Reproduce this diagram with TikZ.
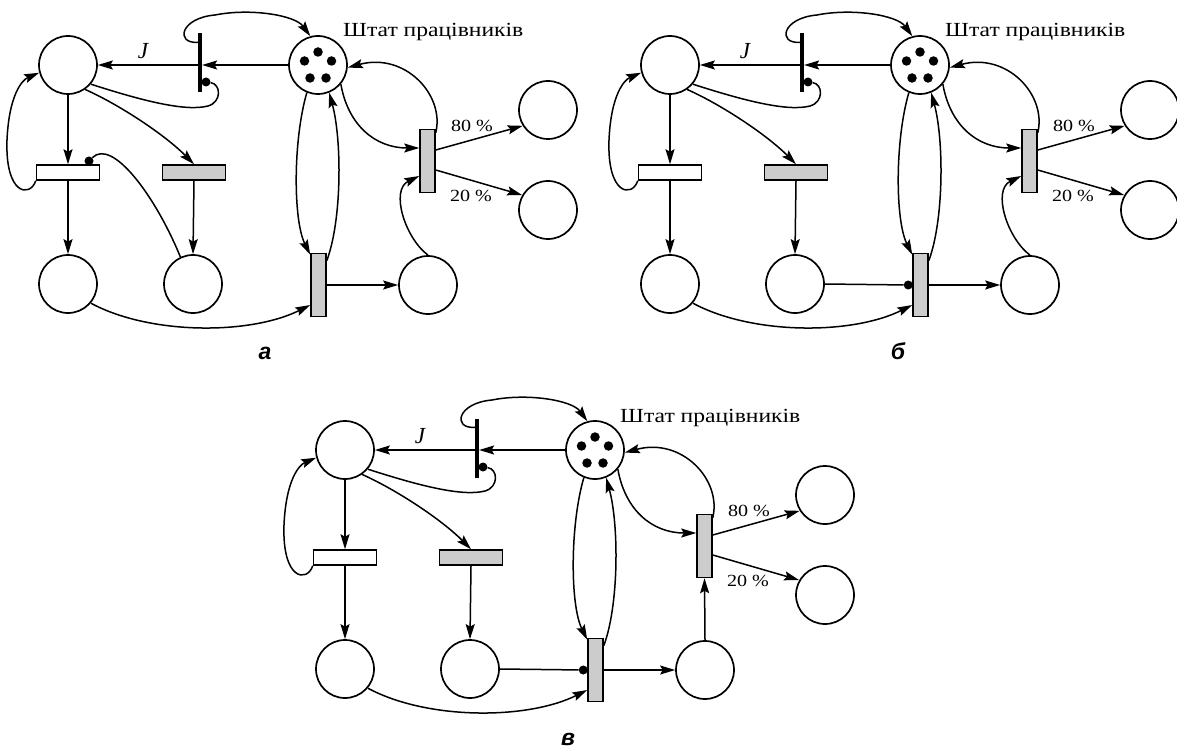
\documentclass[tikz,border=0pt]{standalone}
\usepackage{fontspec}
\setmainfont{Liberation Serif}
\newfontfamily\stafffont{Liberation Serif}[FakeStretch=1.18]
\newfontfamily\panelfont{Liberation Sans}
\usetikzlibrary{arrows.meta,calc}
\tikzset{
  place/.style={circle,draw,line width=1.7pt,minimum size=58pt,inner sep=0pt},
  htrans/.style={rectangle,draw,line width=1.5pt,minimum width=63pt,minimum height=15pt,inner sep=0pt,fill=white},
  vtrans/.style={rectangle,draw,line width=1.5pt,minimum width=15pt,minimum height=63pt,inner sep=0pt},
  stipple/.style={fill=black!20},
  jbar/.style={rectangle,fill=black,minimum width=3.8pt,minimum height=59pt,inner sep=0pt},
  token/.style={circle,fill=black,minimum size=9.5pt,inner sep=0pt},
  inhdot/.style={circle,fill=black,minimum size=9pt,inner sep=0pt},
  arc/.style={line width=1.5pt,-{Stealth[length=15pt,width=9pt,inset=2.5pt]}},
  inh/.style={line width=1.5pt},
  pct/.style={font=\stafffont\fontsize{17}{19}\selectfont,inner sep=0pt},
  jlab/.style={font=\fontsize{23}{25}\selectfont\itshape,inner sep=0pt},
  stafflab/.style={font=\stafffont\fontsize{20}{22}\selectfont,inner sep=0pt,anchor=base west},
  panellab/.style={font=\panelfont\bfseries\itshape\fontsize{23}{25}\selectfont,inner sep=0pt},
}
\newcommand\netbase[1]{%
  \node[place] (#1p1) at (68,65) {};
  \node[jbar] (#1bar) at (200,63) {};
  \node[place] (#1st) at (318,65) {};
  \node[token] (#1k1) at (318,52) {};
  \node[token] (#1k2) at (304.5,61) {};
  \node[token] (#1k3) at (331.5,61) {};
  \node[token] (#1k4) at (310,78) {};
  \node[token] (#1k5) at (326,78) {};
  \node[stafflab] (#1lab) at (343,37) {Штат працівників};
  \node[htrans] (#1t1) at (68,172.5) {};
  \node[htrans,stipple] (#1t2) at (194,172.5) {};
  \node[place] (#1p2) at (68,284) {};
  \node[place] (#1p3) at (193,284) {};
  \node[vtrans,stipple] (#1t3) at (318.5,285) {};
  \node[place] (#1p4) at (428,285) {};
  \node[vtrans,stipple] (#1t4) at (427.5,161) {};
  \node[place] (#1p5) at (548,110) {};
  \node[place] (#1p6) at (548,210) {};
  \node[pct] (#1l80) at (472,126) {80 \%};
  \node[pct] (#1l20) at (471,196) {20 \%};
  \node[jlab] (#1J) at (143,51) {J};
  \node[inhdot] (#1d1) at (206,82) {};
  % arcs
  \draw[arc] (#1st.west) -- (#1bar.east |- #1st.west);
  \draw[arc] (#1bar.west |- #1p1.east) -- (#1p1.east);
  \draw[arc] ($(#1bar.north west)+(0,9)$) .. controls (175,44) and (180,18) .. (215,15)
      .. controls (250,8) and (295,15) .. (#1st.105);
  \draw[inh] (#1p1.-40) .. controls (140,100) and (185,112) .. (208,106)
      .. controls (222,102) and (221,84) .. (#1d1);
  \draw[arc] (#1p1.south) -- (#1t1.north);
  \draw[arc] (#1p1.-55) .. controls (120,105) and (165,135) .. (#1t2.north);
  \draw[arc] (#1t1.south west) .. controls (30,198) and (5,195) .. (7,140)
      .. controls (9,95) and (22,80) .. (#1p1.195);
  \draw[arc] (#1t1.south) -- (#1p2.north);
  \draw[arc] (#1t2.south) -- (#1p3.north);
  \draw[arc] (#1p2.-40) .. controls (150,335) and (250,335) .. ($(#1t3.west)+(0,20)$);
  \draw[arc] (#1st.-112) .. controls (293,140) and (293,220) .. ($(#1t3.north west)+(0,2)$);
  \draw[arc] ($(#1t3.north east)+(0,8)$) .. controls (342,220) and (342,140) .. (#1st.-68);
  \draw[arc] (#1t3.east) -- (#1p4.west);
  \draw[arc] (#1st.-40) .. controls (348,125) and (375,148) .. ($(#1t4.west)+(0,-13)$);
  \draw[arc] ($(#1t4.north east)+(0,4)$) .. controls (445,95) and (405,52) .. (#1st.-5);
  \draw[arc] ($(#1t4.east)+(0,-11)$) -- (#1p5.212);
  \draw[arc] ($(#1t4.east)+(0,9)$) -- (#1p6.150);
}
\begin{document}
\begin{tikzpicture}[x=1pt,y=-1pt]
\useasboundingbox (0,0) rectangle (1177,751);
% panel a
\begin{scope}
  \netbase{a}
  \node[inhdot] (ad2) at (89,161) {};
  \draw[inh] (ap3.115) .. controls (155,195) and (112,138) .. (ad2);
  \draw[arc] (ap4.north) .. controls (405,238) and (390,190) .. ($(at4.west)+(0,15)$);
  \node[panellab] (alab2) at (265,353) {a};
\end{scope}
% panel b
\begin{scope}[shift={(602,0)}]
  \netbase{b}
  \node[inhdot] (bd3) at ($(bt3.west)+(-4,0)$) {};
  \draw[inh] (bp3.east) -- (bd3);
  \draw[arc] (bp4.north) .. controls (405,238) and (390,190) .. ($(bt4.west)+(0,15)$);
  \node[panellab] (blab2) at (296,351) {б};
\end{scope}
% panel c
\begin{scope}[shift={(277,385)}]
  \netbase{c}
  \node[inhdot] (cd3) at ($(ct3.west)+(-4,0)$) {};
  \draw[inh] (cp3.east) -- (cd3);
  \draw[arc] (cp4.north) -- (ct4.south);
  \node[panellab] (clab2) at (291,354) {в};
\end{scope}
\end{tikzpicture}
\end{document}
